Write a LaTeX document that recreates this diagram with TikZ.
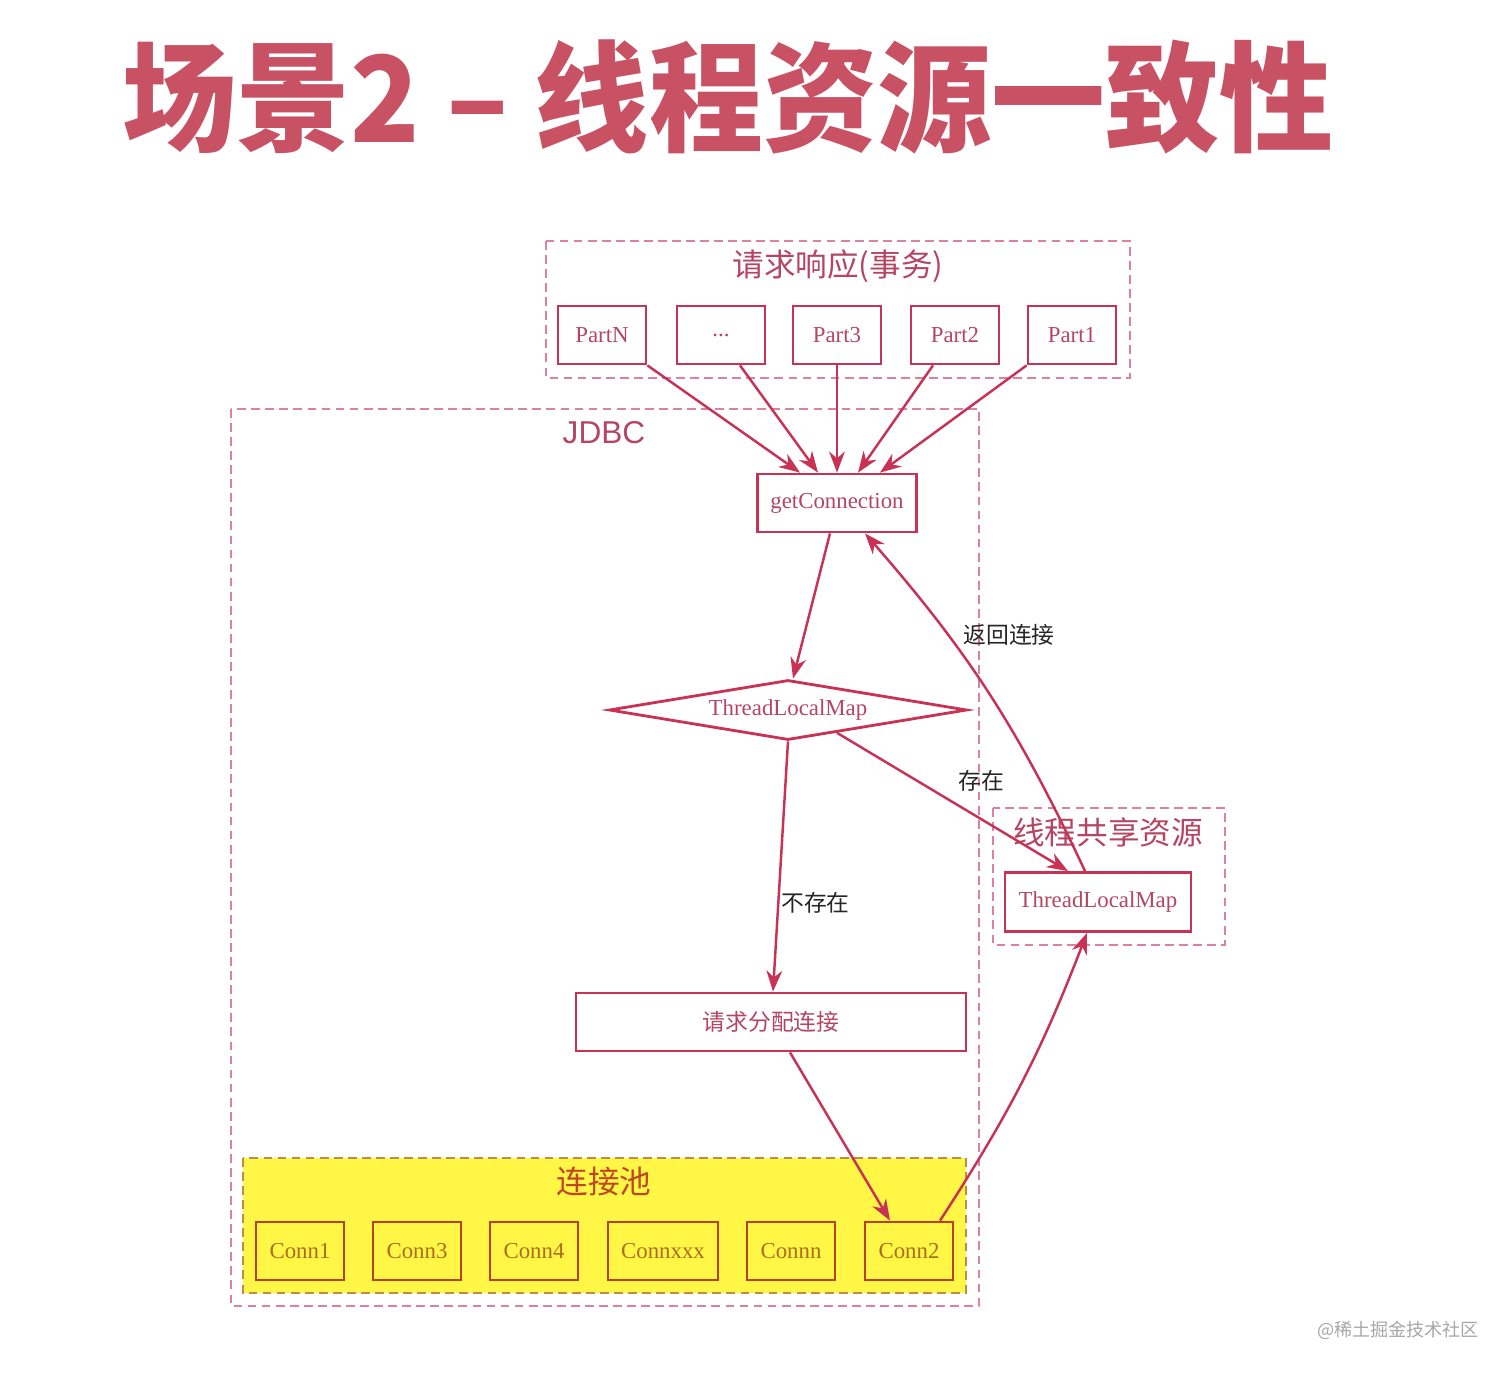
\documentclass[tikz,border=0pt]{standalone}
\usepackage{fontspec}
\setmainfont{Liberation Serif}
\setsansfont{Liberation Sans}
\newfontfamily\cjk{Noto Sans CJK SC}
\usetikzlibrary{arrows.meta, positioning, shapes.geometric}
\usepackage{xcolor}
\definecolor{mred}{RGB}{200,50,85}
\definecolor{mtext}{RGB}{180,70,100}
\definecolor{mtitle}{RGB}{200,82,100}
\definecolor{mdash}{RGB}{220,130,160}
\definecolor{myellow}{RGB}{255,246,70}
\definecolor{mbrown}{RGB}{185,65,40}
\definecolor{mgold}{RGB}{170,110,30}
\definecolor{molive}{RGB}{190,140,70}

\begin{document}
\begin{tikzpicture}[x=0.02cm,y=-0.02cm,
  part/.style={draw=mred,line width=1.6pt,fill=white,text=mtext,minimum width=1.76cm,
    minimum height=1.16cm,inner sep=2pt,font=\fontsize{13}{15}\selectfont},
  conn/.style={part,draw=mbrown,fill=none,text=mgold},
  group/.style={draw=mdash,line width=1.1pt,dash pattern=on 5pt off 3pt},
  grouplabel/.style={text=mtext,font=\cjk\fontsize{18}{20}\selectfont},
  lbl/.style={font=\cjk\fontsize{13}{15}\selectfont,text=black!85},
  arr/.style={draw=mred,line width=1.4pt,-{Stealth[length=12pt,width=9pt]}},
]
\useasboundingbox (0,0) rectangle (1512,1375);

% title
\node[text=mtitle,font=\cjk\bfseries\fontsize{68}{70}\selectfont,xscale=0.955] (title) at (728,97) {场景2 – 线程资源一致性};

% groups
\draw[group] (546,241) rectangle (1130,378);
\node[grouplabel] (reqlabel) at (838,266) {请求响应(事务)};
\draw[group] (231,409) rectangle (979,1306);
\node[grouplabel,font=\sffamily\fontsize{18}{20}\selectfont] (jdbclabel) at (604,433) {JDBC};
\draw[group] (993,808) rectangle (1225,945);
\node[grouplabel] (sharelabel) at (1108,832) {线程共享资源};
\draw[group,draw=molive,fill=myellow] (243,1158) rectangle (966,1293);
\node[grouplabel,text=mbrown!90!orange] (poollabel) at (604,1182) {连接池};

% request parts
\node[part] (pN) at (602,335) {PartN};
\node[part] (pd) at (721,335) {...};
\node[part] (p3) at (837,335) {Part3};
\node[part] (p2) at (955,335) {Part2};
\node[part] (p1) at (1072,335) {Part1};

% jdbc
\node[part] (gc) at (837,503) [minimum width=3.18cm] {getConnection};
\node[part,shape=diamond,aspect=6,minimum width=7.16cm,minimum height=1.2cm,inner sep=0pt] (tlm) at (788,710) {ThreadLocalMap};
\node[part,minimum width=7.8cm,font=\cjk\fontsize{13}{15}\selectfont] (alloc) at (771,1022) {请求分配连接};
\node[part,minimum width=3.72cm,minimum height=1.18cm] (shm) at (1098,902) {ThreadLocalMap};

% pool
\node[conn] (c1) at (300,1251) {Conn1};
\node[conn] (c3) at (417,1251) {Conn3};
\node[conn] (c4) at (534,1251) {Conn4};
\node[conn,minimum width=2.2cm] (cx) at (663,1251) {Connxxx};
\node[conn] (cn) at (791,1251) {Connn};
\node[conn] (c2) at (909,1251) {Conn2};

% arrows
\draw[arr] (pN.south east) -- ([xshift=-0.74cm]gc.north);
\draw[arr] ([xshift=0.38cm]pd.south) -- ([xshift=-0.38cm]gc.north);
\draw[arr] (p3.south) -- (gc.north);
\draw[arr] ([xshift=-0.44cm]p2.south) -- ([xshift=0.42cm]gc.north);
\draw[arr] (p1.south west) -- ([xshift=0.86cm]gc.north);
\draw[arr] ([xshift=-0.14cm]gc.south) -- ([xshift=0.1cm]tlm.north);
\draw[arr] (tlm.south) -- node[lbl,pos=0.645,anchor=west,inner sep=1pt] {不存在} ([xshift=0.04cm]alloc.north);
\draw[arr] (tlm.-25) -- node[lbl,pos=0.6,above,yshift=0.35cm,xshift=0.12cm] {存在} ([xshift=-0.6cm]shm.north);
\draw[arr] ([xshift=-0.26cm]shm.north) to[bend right=8] node[lbl,pos=0.69,anchor=west,inner sep=1pt,xshift=0.25cm] {返回连接} ([xshift=0.56cm]gc.south);
\draw[arr] ([xshift=0.38cm]alloc.south) -- ([xshift=-0.38cm]c2.north);
\draw[arr] ([xshift=0.62cm]c2.north) to[bend right=6] ([xshift=-0.22cm]shm.south);

% watermark
\node[text=black!35,font=\cjk\fontsize{10.3}{12}\selectfont] (mark) at (1398,1330) {@稀土掘金技术社区};
\end{tikzpicture}
\end{document}
